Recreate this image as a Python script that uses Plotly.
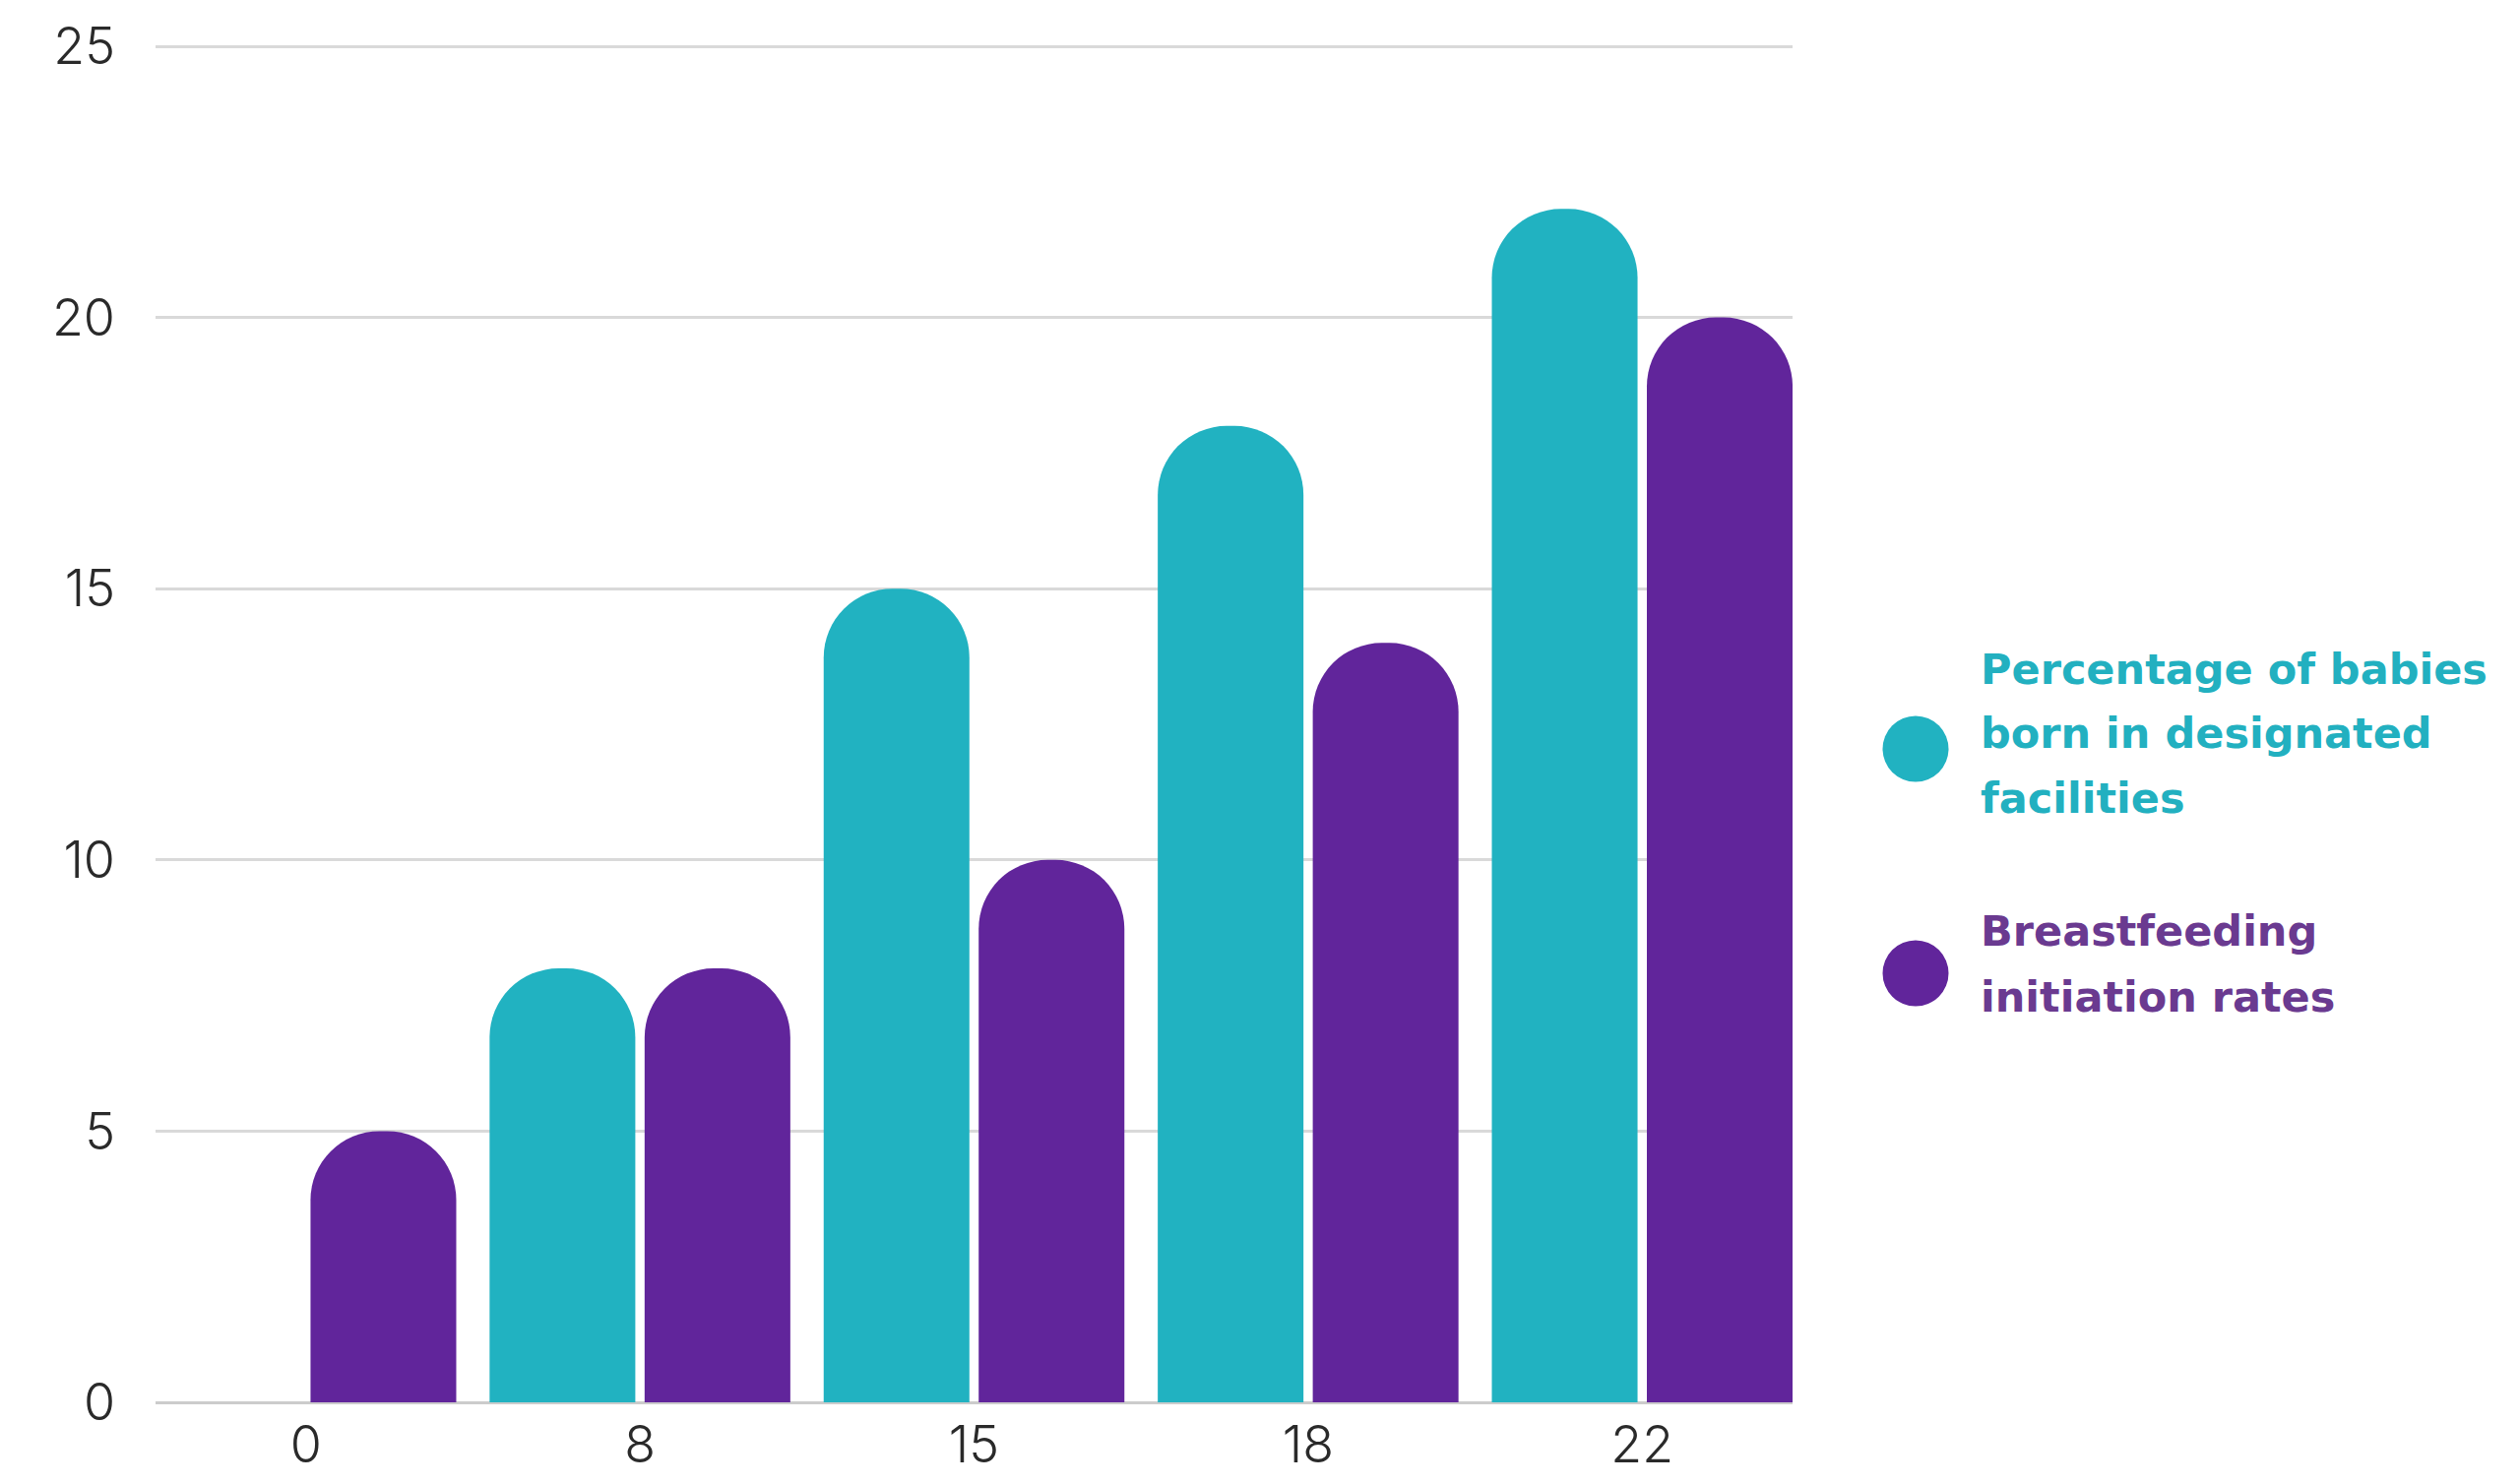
import plotly.graph_objects as go

# data
categories = ["0", "8", "15", "18", "22"]
babies_pct = [None, 8, 15, 18, 22]
breastfeeding = [5, 8, 10, 14, 20]
y_ticks = [0, 5, 10, 15, 20, 25]

legend_teal = ["Percentage of babies", "born in designated", "facilities"]
legend_purple = ["Breastfeeding", "initiation rates"]

TEAL = "#21b2c1"
PURPLE = "#61259b"
TEAL_TEXT = "#22b0c0"
PURPLE_TEXT = "#6a3a90"
TICK_COLOR = "#2a2a2a"

# page body has an 8px margin, so the figure is 16px smaller than the window
W, H = 2544, 1492
M = dict(l=150, r=731, t=34, b=75, pad=0)
plot_w = W - M["l"] - M["r"]
plot_h = H - M["t"] - M["b"]
# a little headroom so the 25 gridline is not clipped at the plot edge
y_top = 25 + 5 * 25 / (plot_h - 5)


def paper_x(px):
    return (px - M["l"]) / plot_w


def paper_y(py):
    return (H - M["b"] - py) / plot_h


fig = go.Figure()

fig.add_trace(
    go.Bar(
        x=categories,
        y=babies_pct,
        name=" ".join(legend_teal),
        marker=dict(color=TEAL, cornerradius=70, line=dict(width=0)),
    )
)
fig.add_trace(
    go.Bar(
        x=categories,
        y=breastfeeding,
        name=" ".join(legend_purple),
        marker=dict(color=PURPLE, cornerradius=70, line=dict(width=0)),
    )
)

tick_font = dict(family="Inter, Lato, sans-serif", size=52, weight=300, color=TICK_COLOR)

fig.update_layout(
    width=W,
    height=H,
    margin=M,
    barmode="group",
    bargap=0.072,
    bargroupgap=0.06,
    showlegend=False,
    plot_bgcolor="white",
    paper_bgcolor="white",
)
fig.update_xaxes(
    type="category",
    range=[-0.45, 4.45],
    automargin=False,
    showgrid=False,
    showline=False,
    zeroline=False,
    ticks="",
    tickfont=tick_font,
    ticklabelstandoff=8,
)
fig.update_yaxes(
    range=[0, y_top],
    tickvals=y_ticks,
    automargin=False,
    showline=False,
    gridcolor="#d9d9d9",
    gridwidth=2.5,
    zeroline=True,
    zerolinecolor="#cccccc",
    zerolinewidth=3,
    ticks="",
    tickfont=tick_font,
    ticklabelstandoff=40,
)

# legend: big dots and coloured bold text, one annotation per line
legend_font = "DejaVu Sans"
dot_r = 33.5
entries = [
    (TEAL, TEAL_TEXT, legend_teal, 753, [672, 737, 803]),
    (PURPLE, PURPLE_TEXT, legend_purple, 981, [938, 1005]),
]
for dot_color, text_color, lines, dot_y, line_ys in entries:
    fig.add_shape(
        type="circle",
        xref="paper",
        yref="paper",
        xsizemode="pixel",
        ysizemode="pixel",
        xanchor=paper_x(1938),
        yanchor=paper_y(dot_y),
        x0=-dot_r,
        x1=dot_r,
        y0=-dot_r,
        y1=dot_r,
        fillcolor=dot_color,
        line=dict(width=0),
    )
    for txt, ly in zip(lines, line_ys):
        fig.add_annotation(
            xref="paper",
            yref="paper",
            x=paper_x(2002),
            y=paper_y(ly),
            xanchor="left",
            yanchor="middle",
            text="<b>%s</b>" % txt,
            showarrow=False,
            font=dict(family=legend_font, size=43, color=text_color),
        )

fig.write_html("out.html")
